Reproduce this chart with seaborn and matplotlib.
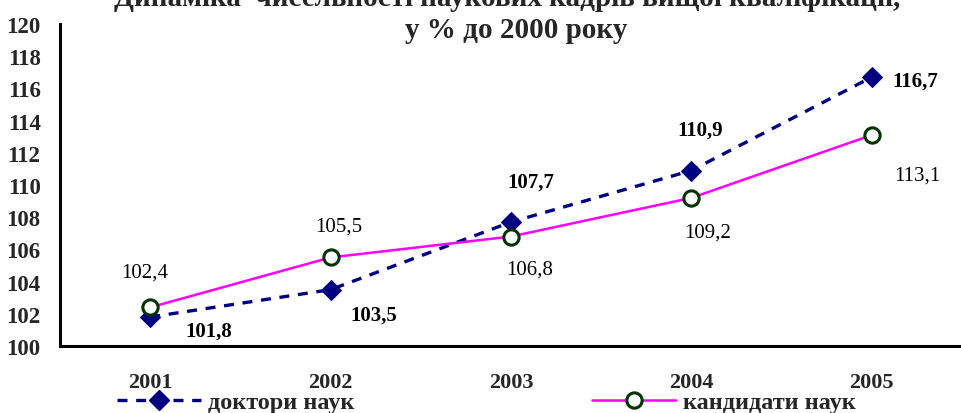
import numpy as np
import pandas as pd
import matplotlib
matplotlib.use("Agg")
import matplotlib.pyplot as plt
import seaborn as sns
from matplotlib.lines import Line2D

years = ["2001", "2002", "2003", "2004", "2005"]
doctors = [101.8, 103.5, 107.7, 110.9, 116.7]
candidates = [102.4, 105.5, 106.8, 109.2, 113.1]
doctors_label = "доктори наук"
candidates_label = "кандидати наук"
title_line1 = "Динаміка  чисельності наукових кадрів вищої кваліфікації,"
title_line2 = "у % до 2000 року"
y_ticks = list(range(100, 121, 2))

sns.set_theme(style="white")
plt.rcParams['font.family'] = ['Liberation Serif', 'DejaVu Serif']

fig = plt.figure(figsize=(9.62, 4.14), dpi=100)
ax = fig.add_axes([60/962, 1-347/414, 1-60/962, (347-25)/414])

df = pd.DataFrame({"x": np.arange(len(years)), "doc": doctors, "cand": candidates})

doc_style = dict(color="#000080", linewidth=2.4, linestyle=(0, (3, 2.6)), marker="D",
                 markersize=10, markerfacecolor="#000080", markeredgecolor="#000080")
cand_style = dict(color="#FF00FF", linewidth=1.8, marker="o", markersize=11,
                  markerfacecolor="white", markeredgecolor="#003300", markeredgewidth=2.2)

sns.lineplot(data=df, x="x", y="doc", ax=ax, zorder=3, **doc_style)
sns.lineplot(data=df, x="x", y="cand", ax=ax, zorder=4, **cand_style)

ax.set_xlim(-0.5, len(years) - 0.5)
ax.set_ylim(100, 120)
ax.set_yticks(y_ticks)
ax.set_yticklabels([str(t) for t in y_ticks], fontsize=16.5, fontweight="bold")
ax.set_xticks(np.arange(len(years)))
ax.set_xticklabels(years, fontsize=16, fontweight="bold")
ax.set_xticks(np.arange(len(years)) - 0.5, minor=True)
ax.tick_params(axis="x", which="major", length=0, pad=19)
ax.tick_params(axis="x", which="minor", length=6, width=1.8, color="black", direction="out")
ax.tick_params(axis="y", length=6, width=1.8, color="black", direction="out", pad=8)
ax.set_xlabel("")
ax.set_ylabel("")
for s in ["top", "right"]:
    ax.spines[s].set_visible(False)
for s in ["left", "bottom"]:
    ax.spines[s].set_color("black")
    ax.spines[s].set_linewidth(2.2)

fmt = lambda v: f"{v:.1f}".replace(".", ",")
doc_off = [(59, -14), (43, -25), (20, 40), (9, 41), (43, -3)]
for i, (v, off) in enumerate(zip(doctors, doc_off)):
    ax.annotate(fmt(v), (i, v), xytext=off, textcoords="offset pixels",
                ha="center", va="center", fontsize=15, fontweight="bold", color="black")
cand_off = [(-6, 35), (8, 31), (19, -33), (16, -34), (45, -40)]
for i, (v, off) in enumerate(zip(candidates, cand_off)):
    ax.annotate(fmt(v), (i, v), xytext=off, textcoords="offset pixels",
                ha="center", va="center", fontsize=15, color="black")

fig.text(507/962, 1 - 6/414, title_line1, ha="center", va="baseline", fontsize=21, fontweight="bold")
fig.text(516/962, 1 - 38/414, title_line2, ha="center", va="baseline", fontsize=21, fontweight="bold")

h1 = Line2D([], [], **doc_style)
h2 = Line2D([], [], **cand_style)
fig.legend([h1, h2], [doctors_label, candidates_label], loc="center",
           bbox_to_anchor=(486.5/962, 1 - 403/414), ncol=2, frameon=False,
           prop={"size": 17.5, "weight": "bold"}, handlelength=3.45, columnspacing=9.75,
           handletextpad=0.3, borderaxespad=0, borderpad=0)

fig.savefig("out.png", dpi=100)
